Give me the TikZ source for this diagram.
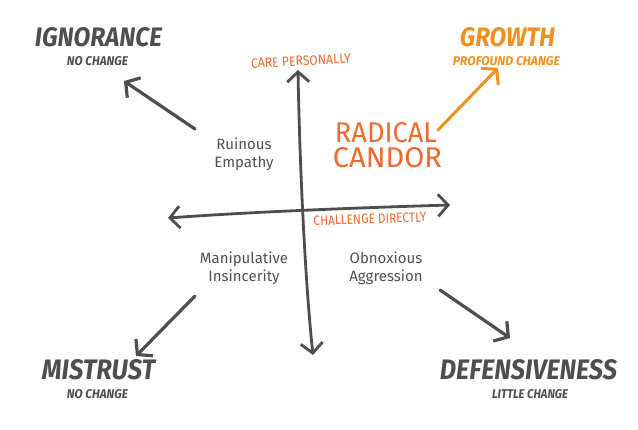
\documentclass[tikz,border=0pt]{standalone}
\usepackage{fontspec}
\setmainfont{Fira Sans}
\usetikzlibrary{arrows.meta}
\definecolor{ink}{HTML}{4E4E4E}
\definecolor{inklight}{HTML}{505050}
\definecolor{redor}{HTML}{EC6A2C}
\definecolor{yellor}{HTML}{F2901E}
\newcommand{\fitbox}[3]{\resizebox{#1}{#2}{#3}}
\tikzset{
  title/.style={text=ink, inner sep=0pt},
  sub/.style={text=ink, inner sep=0pt},
  rcand/.style={text=redor, inner sep=0pt},
  quad/.style={text=inklight, inner sep=0pt, align=center, font=\fontsize{15}{18}\selectfont},
  axis/.style={draw=ink, line width=2.8pt, line cap=round, {Straight Barb[length=10pt,width=22pt,line width=2.8pt]}-{Straight Barb[length=10pt,width=22pt,line width=2.8pt]}},
  arr/.style={draw=ink, line width=3.2pt, line cap=round, -{Straight Barb[length=10pt,width=24pt,line width=3.2pt]}},
  oarr/.style={draw=yellor, line width=3pt, line cap=round, -{Straight Barb[length=10pt,width=24pt,line width=3pt]}}
}
\begin{document}
\begin{tikzpicture}[x=1pt,y=-1pt]
\useasboundingbox[fill=white] (0,0) rectangle (638,429);

% corner titles
\node[title] (ign) at (98.5,37.5) {\fitbox{127pt}{19pt}{\bfseries\itshape IGNORANCE}};
\node[sub] (ignsub) at (97.5,61.5) {\fitbox{61pt}{9pt}{\itshape\bfseries NO CHANGE}};
\node[title,text=yellor] (gro) at (507.5,37.5) {\fitbox{95pt}{19pt}{\bfseries\itshape GROWTH}};
\node[sub,text=yellor] (grosub) at (506.5,61.5) {\fitbox{107pt}{9pt}{\itshape\bfseries PROFOUND CHANGE}};
\node[title] (mis) at (98.5,370) {\fitbox{113pt}{20pt}{\bfseries\itshape MISTRUST}};
\node[sub] (missub) at (97.5,394) {\fitbox{61pt}{9pt}{\itshape\bfseries NO CHANGE}};
\node[title] (def) at (528.5,370) {\fitbox{177pt}{20pt}{\bfseries\itshape DEFENSIVENESS}};
\node[sub] (defsub) at (530,394) {\fitbox{76pt}{9pt}{\itshape\bfseries LITTLE CHANGE}};

% axis labels
\node[text=redor, inner sep=0pt, rotate=3] (care) at (301,61) {\fitbox{100pt}{9.5pt}{CARE PERSONALLY}};
\node[text=redor, inner sep=0pt, rotate=2] (chal) at (370,219) {\fitbox{113pt}{9.5pt}{CHALLENGE DIRECTLY}};

% radical candor
\node[rcand] (rc1) at (386,133) {\fitbox{102pt}{20pt}{RADICAL}};
\node[rcand] (rc2) at (387.5,158) {\fitbox{109pt}{20pt}{CANDOR}};

% quadrant labels
\node[quad] (ruin) at (244,154) {Ruinous\\Empathy};
\node[quad] (manip) at (244,268) {Manipulative\\Insincerity};
\node[quad] (obnox) at (386,268) {Obnoxious\\Aggression};

% axes
\coordinate (vtop) at (298,70);
\coordinate (vbot) at (313,355);
\coordinate (hl) at (168,218);
\coordinate (hr) at (450,205);
\draw[axis] (vbot) .. controls (306,290) and (300,180) .. (vtop);
\draw[axis] (hl) .. controls (250,212) and (350,208) .. (hr);

% diagonal arrows
\coordinate (a1s) at (195,129);
\coordinate (a1e) at (124,81);
\coordinate (a2s) at (195,296);
\coordinate (a2e) at (136,356);
\coordinate (a3s) at (440,290);
\coordinate (a3e) at (510,338);
\coordinate (a4s) at (438,130);
\coordinate (a4e) at (498,68);
\draw[arr] (a1s) -- (a1e);
\draw[arr] (a2s) -- (a2e);
\draw[arr] (a3s) -- (a3e);
\draw[oarr] (a4s) -- (a4e);
\end{tikzpicture}
\end{document}
